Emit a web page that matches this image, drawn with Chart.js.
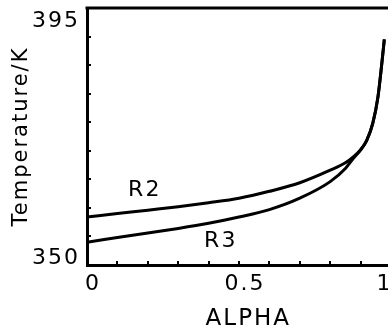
<!DOCTYPE html>
<html>
<head>
<meta charset="utf-8">
<script src="https://cdn.jsdelivr.net/npm/chart.js@4"></script>
<style>
    html, body { margin: 0; padding: 0; background: #fff; overflow: hidden; }
    .wrap { width: 410px; height: 334px; }
</style>
</head>
<body>
<div class="wrap"><canvas id="tempChart"></canvas></div>
<script>
// 数据
const alpha = [0, 0.1, 0.2, 0.3, 0.4, 0.5, 0.6, 0.7, 0.8, 0.85, 0.875, 0.9, 0.92, 0.94, 0.957, 0.97, 0.978];
const tempR2 = [358.4, 359.0, 359.6, 360.2, 360.9, 361.7, 362.9, 364.4, 366.6, 367.9, 368.9, 370.2, 371.8, 374.8, 379.4, 385.4, 389.5];
const tempR3 = [354.0, 354.8, 355.6, 356.4, 357.3, 358.4, 359.7, 361.7, 364.6, 366.9, 368.6, 370.1, 371.8, 374.8, 379.4, 385.4, 389.5];
const seriesNames = ['R2', 'R3'];
const nameAlpha = [0.19, 0.44];
const nameTemp = [363.1, 354.2];
const yLabels = [350, 395];
const xLabels = [0, 0.5, 1];

document.addEventListener('DOMContentLoaded', function() {
    Chart.defaults.font.family = 'DejaVu Sans';
    Chart.defaults.color = '#000';

    const toPoints = (ys) => alpha.map((a, i) => ({ x: a, y: ys[i] }));

    // 字间距
    const spacing = {
        id: 'spacing',
        beforeUpdate(chart) { chart.ctx.letterSpacing = '2px'; },
        beforeDraw(chart) { chart.ctx.letterSpacing = '2px'; }
    };

    // 顶部边框和曲线名称
    const extras = {
        id: 'extras',
        afterDraw(chart) {
            const { ctx, chartArea, scales } = chart;
            ctx.save();
            ctx.strokeStyle = '#000';
            ctx.lineWidth = 3;
            ctx.beginPath();
            ctx.moveTo(chartArea.left - 1.5, chartArea.top);
            ctx.lineTo(chartArea.right, chartArea.top);
            ctx.stroke();

            ctx.fillStyle = '#000';
            ctx.font = '22px "DejaVu Sans"';
            ctx.textAlign = 'center';
            ctx.textBaseline = 'middle';
            seriesNames.forEach((name, i) => {
                ctx.fillText(name, scales.x.getPixelForValue(nameAlpha[i]), scales.y.getPixelForValue(nameTemp[i]));
            });
            ctx.restore();
        }
    };

    const ctx = document.getElementById('tempChart').getContext('2d');
    new Chart(ctx, {
        type: 'line',
        data: {
            datasets: [
                { label: seriesNames[0], data: toPoints(tempR2) },
                { label: seriesNames[1], data: toPoints(tempR3) }
            ]
        },
        options: {
            responsive: true,
            maintainAspectRatio: false,
            animation: false,
            layout: { padding: { left: 0, top: 8, right: 19, bottom: 0 } },
            elements: {
                line: { borderColor: '#000', borderWidth: 3, cubicInterpolationMode: 'monotone', fill: false },
                point: { radius: 0 }
            },
            plugins: {
                legend: { display: false },
                tooltip: { enabled: false }
            },
            scales: {
                x: {
                    type: 'linear',
                    min: 0,
                    max: 1,
                    afterFit(scale) {
                        scale.height = 69;
                        scale.paddingLeft = 0;
                        scale.paddingRight = 0;
                    },
                    border: { display: true, color: '#000', width: 3 },
                    grid: { drawOnChartArea: false, color: '#000', lineWidth: 2, tickLength: -4 },
                    ticks: {
                        stepSize: 0.1,
                        autoSkip: false,
                        maxRotation: 0,
                        padding: 10,
                        labelOffset: 6,
                        font: { size: 22 },
                        callback: (v) => {
                            const hit = xLabels.find(l => Math.abs(l - v) < 1e-6);
                            if (hit === undefined) return '';
                            return hit === 0 ? '0' : hit.toFixed(1);
                        }
                    },
                    title: { display: true, text: '  ALPHA', font: { size: 23 }, padding: { top: 0, bottom: 1 } }
                },
                y: {
                    min: 350,
                    max: 395,
                    afterFit(scale) {
                        scale.width = 87;
                        scale.paddingTop = 0;
                        scale.paddingBottom = 0;
                    },
                    border: { display: true, color: '#000', width: 3 },
                    grid: { drawOnChartArea: false, color: '#000', lineWidth: 2, tickLength: -4 },
                    ticks: {
                        stepSize: 5,
                        autoSkip: false,
                        padding: 11,
                        font: (c) => ({ size: 22, lineHeight: c.tick && c.tick.value === 350 ? '14px' : '26px' }),
                        // 上下标签分别错开
                        callback: (v) => {
                            if (v === 395) return ['', '395'];
                            if (v === 350) return ['350', ''];
                            return '';
                        }
                    },
                    title: { display: true, text: 'Temperature/K', font: { size: 21, lineHeight: 1 }, padding: { top: 11, bottom: 0 } }
                }
            }
        },
        plugins: [spacing, extras]
    });
});
</script>
</body>
</html>
